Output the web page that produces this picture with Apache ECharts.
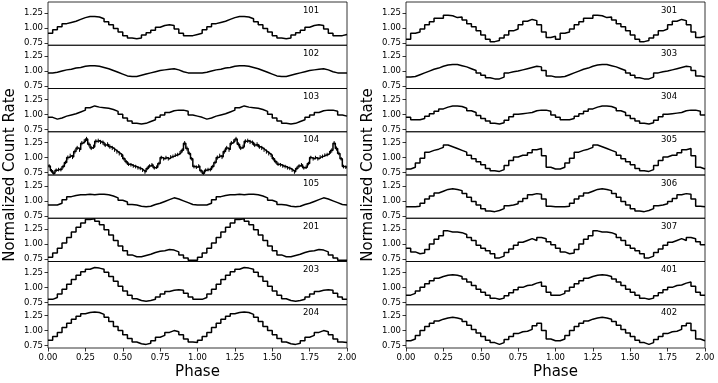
<!DOCTYPE html>
<html>
<head>
<meta charset="utf-8">
<script src="https://cdn.jsdelivr.net/npm/echarts@6/dist/echarts.min.js"></script>
<style>
  html, body { margin: 0; padding: 0; background: #fff; }
  #chart { width: 718px; height: 383px; }
</style>
</head>
<body>
<div id="chart"></div>
<script>
// pulse profiles, 32 bins per cycle (phase 0-1), drawn twice over 0-2
const p101 = [0.91, 0.97, 1.02, 1.07, 1.09, 1.11, 1.14, 1.17, 1.19, 1.19, 1.18, 1.15, 1.10, 1.05, 0.99, 0.93,
              0.87, 0.83, 0.82, 0.83, 0.88, 0.92, 0.96, 1.01, 1.04, 1.05, 1.04, 0.98, 0.91, 0.87, 0.87, 0.89]
const p102 = [0.97, 0.98, 1.00, 1.02, 1.03, 1.05, 1.06, 1.08, 1.09, 1.09, 1.08, 1.06, 1.04, 1.01, 0.98, 0.95,
              0.92, 0.91, 0.91, 0.93, 0.95, 0.97, 0.99, 1.01, 1.02, 1.03, 1.04, 1.02, 0.99, 0.97, 0.97, 0.97]
const p103 = [0.95, 0.92, 0.94, 0.97, 0.99, 1.01, 1.04, 1.07, 1.11, 1.14, 1.12, 1.11, 1.10, 1.08, 1.05, 1.00,
              0.94, 0.89, 0.85, 0.84, 0.85, 0.88, 0.91, 0.95, 0.99, 1.03, 1.06, 1.07, 1.07, 1.05, 0.99, 0.97]
// 104 has 64 bins per cycle and error bars
const p104 = [0.86, 0.78, 0.74, 0.79, 0.80, 0.80, 0.85, 0.92, 1.00, 1.03, 1.01, 1.10, 1.16, 1.13, 1.24, 1.27,
              1.31, 1.22, 1.16, 1.18, 1.27, 1.28, 1.26, 1.25, 1.21, 1.22, 1.18, 1.16, 1.13, 1.10, 1.07, 1.04,
              0.98, 0.93, 0.89, 0.88, 0.86, 0.85, 0.83, 0.82, 0.79, 0.76, 0.82, 0.86, 0.88, 0.83, 0.84, 0.90,
              1.00, 0.98, 1.00, 0.98, 1.01, 1.02, 1.04, 1.05, 1.08, 1.12, 1.24, 1.15, 1.07, 0.98, 0.85, 0.84]
const p104err = [0.03, 0.03, 0.03, 0.03, 0.03, 0.03, 0.03, 0.03, 0.035, 0.035, 0.035, 0.035, 0.035, 0.035, 0.035, 0.035,
                 0.035, 0.035, 0.035, 0.035, 0.035, 0.035, 0.035, 0.035, 0.035, 0.035, 0.035, 0.035, 0.035, 0.035, 0.035, 0.03,
                 0.03, 0.03, 0.03, 0.03, 0.03, 0.03, 0.03, 0.03, 0.03, 0.03, 0.03, 0.03, 0.03, 0.03, 0.03, 0.03,
                 0.03, 0.03, 0.03, 0.03, 0.03, 0.03, 0.03, 0.03, 0.03, 0.035, 0.035, 0.035, 0.03, 0.03, 0.03, 0.03]
const p105 = [0.93, 0.93, 0.96, 1.02, 1.07, 1.09, 1.10, 1.10, 1.11, 1.10, 1.11, 1.11, 1.10, 1.08, 1.05, 1.01,
              0.98, 0.94, 0.93, 0.91, 0.90, 0.91, 0.94, 0.96, 0.99, 1.02, 1.05, 1.03, 1.00, 0.97, 0.94, 0.93]
const p201 = [0.78, 0.85, 0.93, 1.02, 1.11, 1.20, 1.28, 1.35, 1.41, 1.42, 1.38, 1.32, 1.24, 1.15, 1.06, 0.97,
              0.89, 0.82, 0.79, 0.79, 0.81, 0.83, 0.86, 0.88, 0.89, 0.91, 0.90, 0.87, 0.82, 0.77, 0.73, 0.73]
const p203 = [0.80, 0.83, 0.89, 0.97, 1.05, 1.13, 1.20, 1.26, 1.30, 1.33, 1.32, 1.30, 1.25, 1.18, 1.10, 1.02,
              0.94, 0.87, 0.81, 0.78, 0.77, 0.78, 0.80, 0.84, 0.89, 0.93, 0.95, 0.96, 0.95, 0.90, 0.84, 0.80]
const p204 = [0.84, 0.90, 0.97, 1.05, 1.12, 1.19, 1.24, 1.28, 1.30, 1.31, 1.30, 1.27, 1.22, 1.15, 1.07, 1.00,
              0.93, 0.87, 0.81, 0.78, 0.77, 0.79, 0.83, 0.89, 0.92, 0.97, 1.00, 0.98, 0.93, 0.86, 0.81, 0.80]
const p301 = [0.81, 0.91, 0.93, 0.98, 1.05, 1.10, 1.16, 1.16, 1.21, 1.20, 1.17, 1.18, 1.13, 1.07, 1.02, 0.95,
              0.88, 0.81, 0.77, 0.79, 0.83, 0.88, 0.95, 0.98, 1.05, 1.11, 1.14, 1.12, 1.05, 0.93, 0.84, 0.86]
const p303 = [0.90, 0.91, 0.94, 0.97, 1.00, 1.03, 1.05, 1.08, 1.10, 1.11, 1.11, 1.09, 1.07, 1.04, 1.01, 0.97,
              0.93, 0.89, 0.87, 0.87, 0.90, 0.97, 0.99, 1.00, 1.02, 1.04, 1.06, 1.08, 1.07, 1.01, 0.92, 0.90]
const p304 = [0.95, 0.91, 0.91, 0.93, 0.97, 1.01, 1.05, 1.09, 1.12, 1.14, 1.14, 1.13, 1.10, 1.06, 1.03, 0.98,
              0.93, 0.89, 0.85, 0.84, 0.86, 0.90, 0.96, 1.00, 1.01, 1.02, 1.03, 1.06, 1.07, 1.07, 1.05, 0.99]
const p305 = [0.81, 0.84, 0.91, 0.99, 1.09, 1.12, 1.14, 1.17, 1.21, 1.18, 1.15, 1.12, 1.09, 1.04, 0.98, 0.93,
              0.88, 0.82, 0.78, 0.77, 0.80, 0.87, 0.95, 1.01, 1.04, 1.04, 1.08, 1.13, 1.15, 1.03, 0.84, 0.81]
const p306 = [0.90, 0.90, 0.91, 0.96, 1.03, 1.08, 1.13, 1.16, 1.19, 1.20, 1.19, 1.17, 1.12, 1.06, 0.99, 0.93,
              0.87, 0.83, 0.82, 0.84, 0.87, 0.92, 0.93, 0.95, 0.99, 1.04, 1.10, 1.12, 1.11, 1.03, 0.91, 0.90]
const p307 = [0.93, 0.87, 0.84, 0.85, 0.91, 1.00, 1.08, 1.14, 1.22, 1.20, 1.20, 1.19, 1.16, 1.11, 1.06, 0.98,
              0.93, 0.89, 0.84, 0.77, 0.80, 0.86, 0.92, 0.98, 1.03, 1.06, 1.09, 1.06, 1.11, 1.09, 1.04, 0.99]
const p401 = [0.87, 0.90, 0.94, 1.00, 1.06, 1.11, 1.15, 1.18, 1.20, 1.21, 1.20, 1.18, 1.14, 1.09, 1.03, 0.97,
              0.92, 0.87, 0.82, 0.80, 0.82, 0.86, 0.91, 0.96, 1.00, 1.03, 1.04, 1.07, 1.09, 1.02, 0.92, 0.87]
const p402 = [0.83, 0.86, 0.92, 1.00, 1.07, 1.12, 1.16, 1.19, 1.21, 1.22, 1.21, 1.19, 1.15, 1.09, 1.02, 0.96,
              0.90, 0.84, 0.80, 0.77, 0.80, 0.85, 0.90, 0.95, 0.98, 0.99, 1.02, 1.08, 1.12, 1.00, 0.86, 0.83]

const leftLabels = ['101', '102', '103', '104', '105', '201', '203', '204']
const rightLabels = ['301', '303', '304', '305', '306', '307', '401', '402']
const leftProfiles = [p101, p102, p103, p104, p105, p201, p203, p204]
const rightProfiles = [p301, p303, p304, p305, p306, p307, p401, p402]

const yTicks = [0.75, 1.00, 1.25]
const xTickLabels = ['0.00', '0.25', '0.50', '0.75', '1.00', '1.25', '1.50', '1.75', '2.00']
const Y_MIN = 0.71
const Y_MAX = 1.43

const FONT = 'DejaVu Sans'
const PANEL_TOP = 2
const PANEL_H = 43.25
const COLS = [{ left: 48, labels: leftLabels, profiles: leftProfiles },
              { left: 406, labels: rightLabels, profiles: rightProfiles }]
const PANEL_W = 299

// step data over phase 0-2, value holds from each bin edge to the next
const stepData = (vals) => {
  const n = vals.length
  const out = []
  for (let k = 0; k < 2 * n; k++) out.push([k / n, vals[k % n]])
  out.push([2, vals[n - 1]])
  return out
}

const grid = []
const xAxis = []
const yAxis = []
const series = []
const graphic = []

COLS.forEach((col, c) => {
  col.profiles.forEach((vals, r) => {
    const idx = grid.length
    const top = PANEL_TOP + r * PANEL_H
    const isBottom = r === col.profiles.length - 1
    grid.push({
      left: col.left, top: top, width: PANEL_W, height: PANEL_H,
      show: true, borderColor: '#000', borderWidth: 0.8, backgroundColor: 'transparent'
    })
    xAxis.push({
      type: 'value', gridIndex: idx, min: 0, max: 2, interval: 0.25,
      axisLine: { show: false },
      splitLine: { show: false },
      axisTick: { show: isBottom, length: 3.5, lineStyle: { color: '#000', width: 0.8 } },
      axisLabel: {
        show: isBottom, margin: 5, color: '#000', fontFamily: FONT, fontSize: 8.5,
        formatter: (v) => xTickLabels[Math.round(v / 0.25)]
      }
    })
    yAxis.push({
      type: 'value', gridIndex: idx, min: Y_MIN, max: Y_MAX,
      axisLine: { show: false },
      splitLine: { show: false },
      axisTick: { show: true, length: 3.5, customValues: yTicks, lineStyle: { color: '#000', width: 0.8 } },
      axisLabel: {
        show: true, margin: 5, color: '#000', fontFamily: FONT, fontSize: 8.5,
        customValues: yTicks, formatter: (v) => v.toFixed(2)
      }
    })
    series.push({
      type: 'line', xAxisIndex: idx, yAxisIndex: idx,
      data: stepData(vals), step: 'end', showSymbol: false, symbol: 'none',
      lineStyle: { color: '#000', width: 1.5 }, clip: true, animation: false
    })
    if (vals === p104) {
      const n = vals.length
      const errData = []
      for (let k = 0; k < 2 * n; k++) errData.push([(k + 0.5) / n, vals[k % n], p104err[k % n]])
      series.push({
        type: 'custom', xAxisIndex: idx, yAxisIndex: idx, data: errData, clip: true, animation: false,
        renderItem: (params, api) => {
          const lo = api.coord([api.value(0), api.value(1) - api.value(2)])
          const hi = api.coord([api.value(0), api.value(1) + api.value(2)])
          return {
            type: 'line',
            shape: { x1: lo[0], y1: lo[1], x2: hi[0], y2: hi[1] },
            style: { stroke: '#000', lineWidth: 1 }
          }
        }
      })
    }
    graphic.push({
      type: 'text', x: col.left + 263, y: top + 8.5,
      style: { text: col.labels[r], fill: '#000', font: '8.5px "DejaVu Sans"', align: 'center', verticalAlign: 'middle' }
    })
  })
  // axis titles
  graphic.push({
    type: 'text', x: col.left + PANEL_W / 2, y: 372,
    style: { text: 'Phase', fill: '#000', font: '15px "DejaVu Sans"', align: 'center', verticalAlign: 'middle' }
  })
  graphic.push({
    type: 'text', x: col.left - 38, y: PANEL_TOP + 4 * PANEL_H, rotation: Math.PI / 2,
    style: { text: 'Normalized Count Rate', fill: '#000', font: '15px "DejaVu Sans"', align: 'center', verticalAlign: 'middle' }
  })
})

const chart = echarts.init(document.getElementById('chart'), null, { renderer: 'canvas' })
chart.setOption({
  animation: false,
  backgroundColor: '#fff',
  grid: grid,
  xAxis: xAxis,
  yAxis: yAxis,
  series: series,
  graphic: graphic
})
</script>
</body>
</html>
